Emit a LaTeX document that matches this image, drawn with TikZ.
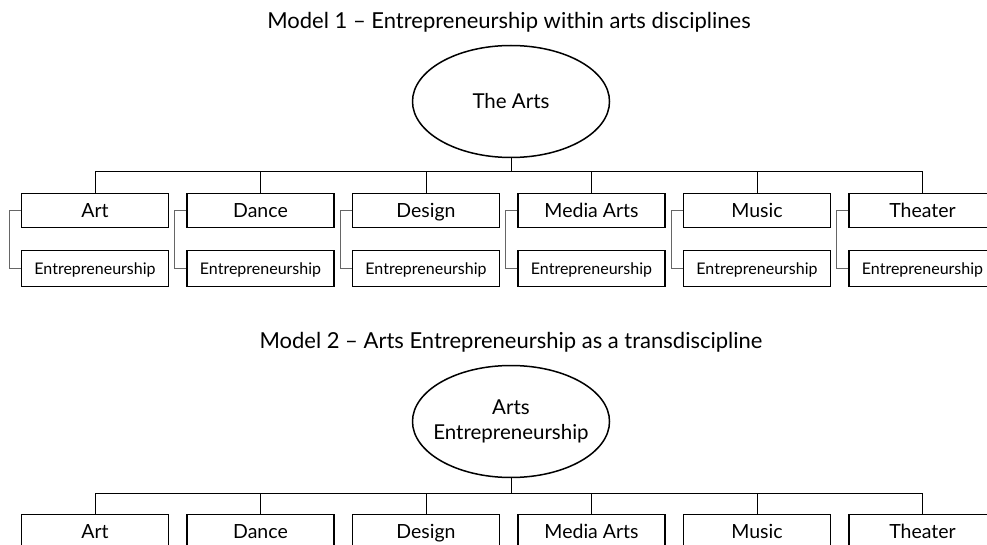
\documentclass[tikz,border=0pt]{standalone}
\usepackage{fontspec}
\setmainfont{Lato}
\usepackage{tikz}
\usetikzlibrary{shapes.geometric, positioning}

\begin{document}
\begin{tikzpicture}[
    x=1pt, y=-1pt,
    title/.style={font=\fontsize{22}{26}\selectfont},
    root/.style={draw, ellipse, line width=1.5pt, minimum width=197pt, minimum height=112pt, align=center, font=\fontsize{20.5}{25}\selectfont, inner xsep=-25pt, inner ysep=0pt},
    field/.style={draw, rectangle, line width=1.3pt, minimum width=147pt, minimum height=34pt, text height=14pt, text depth=0pt, font=\fontsize{19.5}{22}\selectfont, inner sep=0pt},
    sub/.style={draw, rectangle, line width=1.3pt, minimum width=147pt, minimum height=36pt, text height=11.5pt, text depth=0pt, font=\fontsize{16}{19}\selectfont, inner sep=0pt},
    bus/.style={line width=0.9pt},
    side/.style={line width=0.7pt, black!60}
]
\clip (0,0) rectangle (987,545);

% Model 1
\node[title] (title1) at (509,22) {Model 1 -- Entrepreneurship within arts disciplines};
\node[root] (arts1) at (511,101.5) {The Arts};
\coordinate (bus1) at (511,171);
\draw[bus] (arts1.south) -- (bus1);

\foreach \name [count=\i from 0] in {Art,Dance,Design,Media Arts,Music,Theater} {
    \node[field] (disc1-\i) at (95+165.5*\i,210.5) {\name};
    \node[sub] (ent1-\i) at (95+165.5*\i,268.5) {Entrepreneurship};
    \draw[bus] (bus1) -| (disc1-\i.north);
    \draw[side] (disc1-\i.west) -- ++(-12,0) |- (ent1-\i.west);
}

% Model 2
\node[title] (title2) at (511,342) {Model 2 -- Arts Entrepreneurship as a transdiscipline};
\node[root] (arts2) at (511,421.5) {Arts\\Entrepreneurship};
\coordinate (bus2) at (511,493);
\draw[bus] (arts2.south) -- (bus2);

\foreach \name [count=\i from 0] in {Art,Dance,Design,Media Arts,Music,Theater} {
    \node[field] (disc2-\i) at (95+165.5*\i,531.5) {\name};
    \draw[bus] (bus2) -| (disc2-\i.north);
}

\end{tikzpicture}
\end{document}
